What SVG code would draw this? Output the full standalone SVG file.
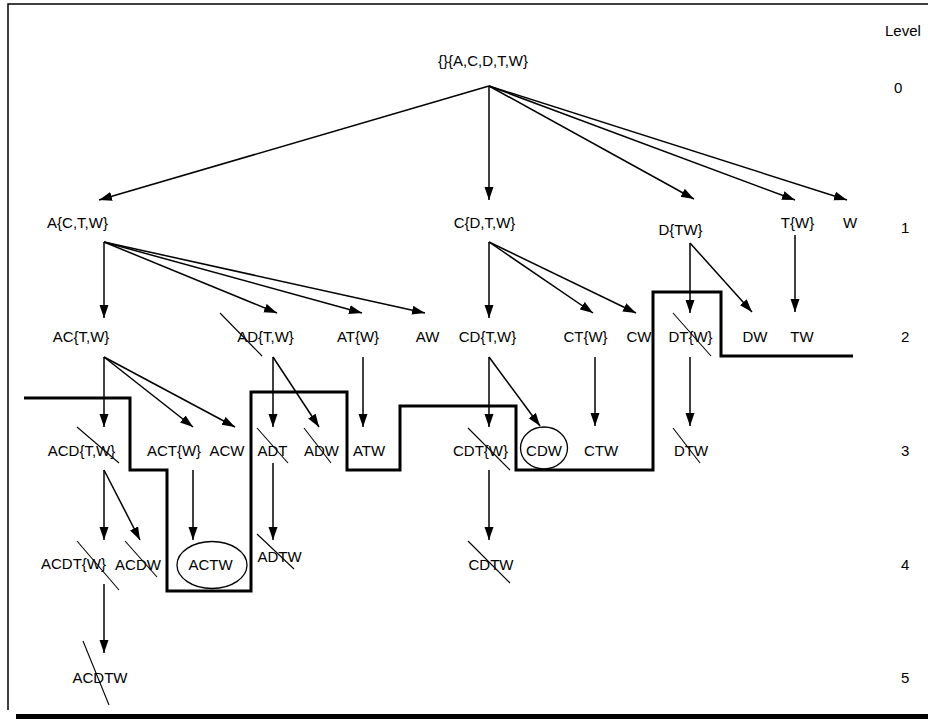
<svg xmlns="http://www.w3.org/2000/svg" width="928" height="719" viewBox="0 0 928 719">
<defs>
<marker id="ah" markerUnits="userSpaceOnUse" markerWidth="14" markerHeight="10" refX="13" refY="4.5" orient="auto">
<path d="M0,0 L13,4.5 L0,9 Z" fill="#000"/>
</marker>
<style>
text{font-family:"Liberation Sans",Arial,sans-serif;font-size:15px;fill:#000;text-anchor:middle}
.lv{text-anchor:start}
.c line{stroke:#000;stroke-width:1.5;marker-end:url(#ah)}
.s{stroke:#000;stroke-width:1.1}
.step{fill:none;stroke:#000;stroke-width:3}
.ov{fill:none;stroke:#000;stroke-width:1.3}
</style>
</defs>
<rect x="0" y="0" width="928" height="719" fill="#fff"/>
<path d="M929,4 H8 V710" fill="none" stroke="#000" stroke-width="1.5"/>
<rect x="16" y="714" width="920" height="8" fill="#000"/>

<g id="levels">
<text class="lv" x="885" y="36">Level</text>
<text class="lv" x="894" y="93">0</text>
<text class="lv" x="901" y="233">1</text>
<text class="lv" x="901" y="342">2</text>
<text class="lv" x="901" y="456">3</text>
<text class="lv" x="901" y="570">4</text>
<text class="lv" x="901" y="683">5</text>
</g>

<path id="border-line" class="step" d="M24,398 H130 V470 H167 V591 H251 V392 H347 V470 H400 V406 H516 V470 H653 V292 H721 V356 H853"/>

<g id="connectors" class="c">
<line x1="489" y1="86" x2="99" y2="200"/>
<line x1="489" y1="86" x2="489" y2="200"/>
<line x1="489" y1="86" x2="694" y2="199"/>
<line x1="489" y1="86" x2="795" y2="200"/>
<line x1="489" y1="86" x2="847" y2="200"/>

<line x1="104" y1="242" x2="104" y2="318"/>
<line x1="104" y1="242" x2="277" y2="313"/>
<line x1="104" y1="242" x2="362" y2="313"/>
<line x1="104" y1="242" x2="425" y2="313"/>
<line x1="489" y1="242" x2="489" y2="318"/>
<line x1="489" y1="242" x2="593" y2="313"/>
<line x1="489" y1="242" x2="636" y2="313"/>
<line x1="690" y1="243" x2="690" y2="313"/>
<line x1="690" y1="243" x2="752" y2="312"/>
<line x1="795" y1="235" x2="795" y2="312"/>

<line x1="104" y1="357" x2="104" y2="427"/>
<line x1="104" y1="357" x2="193" y2="427"/>
<line x1="104" y1="357" x2="235" y2="427"/>
<line x1="273" y1="357" x2="273" y2="427"/>
<line x1="273" y1="357" x2="319" y2="427"/>
<line x1="363" y1="357" x2="363" y2="427"/>
<line x1="489" y1="357" x2="489" y2="427"/>
<line x1="489" y1="357" x2="540" y2="426"/>
<line x1="595" y1="357" x2="595" y2="426"/>
<line x1="690" y1="357" x2="690" y2="426"/>

<line x1="104" y1="470" x2="104" y2="540"/>
<line x1="104" y1="470" x2="140" y2="540"/>
<line x1="193" y1="470" x2="193" y2="540"/>
<line x1="273" y1="463" x2="273" y2="540"/>
<line x1="489" y1="470" x2="489" y2="540"/>

<line x1="104" y1="584" x2="104" y2="653"/>
</g>

<g id="n-root"><text x="483" y="66">{}{A,C,D,T,W}</text></g>

<g id="n-A"><text x="77.5" y="228">A{C,T,W}</text></g>
<g id="n-C"><text x="484.5" y="228">C{D,T,W}</text></g>
<g id="n-D"><text x="680.5" y="235">D{TW}</text></g>
<g id="n-T"><text x="797.5" y="228">T{W}</text></g>
<g id="n-W"><text x="850" y="228">W</text></g>

<g id="n-AC"><text x="81" y="342">AC{T,W}</text></g>
<g id="n-AD"><text x="265.5" y="342">AD{T,W}</text><line class="s" x1="220" y1="313" x2="262" y2="356"/></g>
<g id="n-AT"><text x="358" y="342">AT{W}</text></g>
<g id="n-AW"><text x="427.5" y="342">AW</text></g>
<g id="n-CD"><text x="487.5" y="342">CD{T,W}</text></g>
<g id="n-CT"><text x="585.5" y="342">CT{W}</text></g>
<g id="n-CW"><text x="639" y="342">CW</text></g>
<g id="n-DT"><text x="690.5" y="342">DT{W}</text><line class="s" x1="673" y1="313" x2="711" y2="356"/></g>
<g id="n-DW"><text x="755" y="342">DW</text></g>
<g id="n-TW"><text x="802" y="342">TW</text></g>

<g id="n-ACD"><text x="81.5" y="456">ACD{T,W}</text><line class="s" x1="77" y1="427" x2="119" y2="463"/></g>
<g id="n-ACT"><text x="174" y="456">ACT{W}</text></g>
<g id="n-ACW"><text x="227" y="456">ACW</text></g>
<g id="n-ADT"><text x="272.5" y="456">ADT</text><line class="s" x1="257" y1="428" x2="288" y2="463"/></g>
<g id="n-ADW"><text x="321.5" y="456">ADW</text><line class="s" x1="304" y1="428" x2="331" y2="463"/></g>
<g id="n-ATW"><text x="369" y="456">ATW</text></g>
<g id="n-CDT"><text x="480.5" y="456">CDT{W}</text><line class="s" x1="468" y1="428" x2="510" y2="470"/></g>
<g id="n-CDW"><ellipse class="ov" cx="544" cy="448" rx="23.5" ry="21"/><text x="544" y="456">CDW</text></g>
<g id="n-CTW"><text x="601" y="456">CTW</text></g>
<g id="n-DTW"><text x="691" y="456">DTW</text><line class="s" x1="673" y1="428" x2="700" y2="463"/></g>

<g id="n-ACDT"><text x="73.5" y="569">ACDT{W}</text><line class="s" x1="77" y1="541" x2="119" y2="590"/></g>
<g id="n-ACDW"><text x="138" y="570">ACDW</text><line class="s" x1="125" y1="541" x2="157" y2="577"/></g>
<g id="n-ACTW"><ellipse class="ov" cx="212" cy="565" rx="35" ry="23.5"/><text x="210.5" y="570">ACTW</text></g>
<g id="n-ADTW"><text x="279.5" y="562">ADTW</text><line class="s" x1="257" y1="534" x2="294" y2="569"/></g>
<g id="n-CDTW"><text x="491" y="570">CDTW</text><line class="s" x1="468" y1="541" x2="510" y2="583"/></g>

<g id="n-ACDTW"><text x="100" y="683">ACDTW</text><line class="s" x1="83" y1="641" x2="109" y2="705"/></g>
</svg>
